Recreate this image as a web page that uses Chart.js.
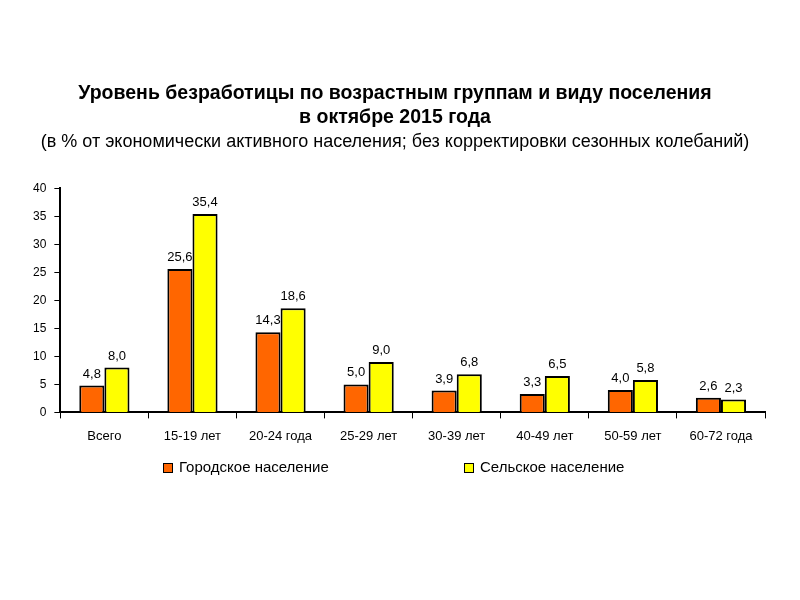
<!DOCTYPE html>
<html>
<head>
<meta charset="utf-8">
<script src="https://cdn.jsdelivr.net/npm/chart.js@4/dist/chart.umd.min.js"></script>
<style>
  html, body { margin: 0; padding: 0; background: #fff; }
  #wrap { width: 800px; height: 600px; }
</style>
</head>
<body>
<div id="wrap"><canvas id="chart" width="800" height="600"></canvas></div>
<script>
var categories = ['Всего', '15-19 лет', '20-24 года', '25-29 лет', '30-39 лет', '40-49 лет', '50-59 лет', '60-72 года'];
var urban = [4.8, 25.6, 14.3, 5.0, 3.9, 3.3, 4.0, 2.6];
var rural = [8.0, 35.4, 18.6, 9.0, 6.8, 6.5, 5.8, 2.3];
var yTicks = [0, 5, 10, 15, 20, 25, 30, 35, 40];

var fontFamily = 'Arial, "Liberation Sans", sans-serif';

// подписи значений над столбцами
var valueLabels = {
    id: 'valueLabels',
    afterDatasetsDraw: function(chart) {
        var ctx = chart.ctx;
        ctx.save();
        ctx.font = '13px ' + fontFamily;
        ctx.fillStyle = '#000';
        ctx.textAlign = 'center';
        ctx.textBaseline = 'bottom';
        chart.data.datasets.forEach(function(ds, i) {
            chart.getDatasetMeta(i).data.forEach(function(bar, j) {
                var txt = ds.data[j].toFixed(1).replace('.', ',');
                ctx.fillText(txt, bar.x, bar.y - 5);
            });
        });
        ctx.restore();
    }
};

// легенда внизу, с большим промежутком между элементами
var bottomLegend = {
    id: 'bottomLegend',
    afterDraw: function(chart) {
        var ctx = chart.ctx;
        var xs = [163, 464];
        var y = 468;
        ctx.save();
        ctx.font = '15px ' + fontFamily;
        ctx.textBaseline = 'middle';
        ctx.textAlign = 'left';
        chart.data.datasets.forEach(function(ds, i) {
            ctx.fillStyle = ds.backgroundColor;
            ctx.fillRect(xs[i], y - 5, 10, 10);
            ctx.strokeStyle = '#000';
            ctx.lineWidth = 1;
            ctx.strokeRect(xs[i] + 0.5, y - 4.5, 9, 9);
            ctx.fillStyle = '#000';
            ctx.fillText(ds.label, xs[i] + 16, y);
        });
        ctx.restore();
    }
};

var ctx = document.getElementById('chart').getContext('2d');
new Chart(ctx, {
    type: 'bar',
    data: {
        labels: categories,
        datasets: [{
            label: 'Городское население',
            data: urban,
            backgroundColor: '#FF6600',
            borderColor: '#000',
            borderWidth: 2,
            categoryPercentage: 0.57,
            barPercentage: 1.0
        }, {
            label: 'Сельское население',
            data: rural,
            backgroundColor: '#FFFF00',
            borderColor: '#000',
            borderWidth: 2,
            categoryPercentage: 0.57,
            barPercentage: 1.0
        }]
    },
    plugins: [valueLabels, bottomLegend],
    options: {
        responsive: false,
        animation: false,
        layout: {
            padding: { left: 25, right: 35, top: 81, bottom: 146 }
        },
        plugins: {
            title: {
                display: true,
                text: ['Уровень безработицы по возрастным группам и виду поселения', 'в октябре 2015 года'],
                color: '#000',
                font: { family: fontFamily, size: 19.5, weight: 'bold', lineHeight: 1.25 },
                padding: { top: 0, bottom: 1 }
            },
            subtitle: {
                display: true,
                text: '(в % от экономически активного населения; без корректировки сезонных колебаний)',
                color: '#000',
                font: { family: fontFamily, size: 18, lineHeight: 1.2 },
                padding: { top: 0, bottom: 36 }
            },
            legend: { display: false },
            tooltip: { enabled: false }
        },
        scales: {
            x: {
                offset: true,
                grid: {
                    offset: true,
                    drawOnChartArea: false,
                    drawTicks: true,
                    tickLength: 6,
                    color: '#000',
                    lineWidth: 1
                },
                border: { display: true, color: '#000', width: 2 },
                ticks: {
                    color: '#000',
                    padding: 10,
                    maxRotation: 0,
                    autoSkip: false,
                    font: { family: fontFamily, size: 13 }
                }
            },
            y: {
                min: 0,
                max: 40,
                afterBuildTicks: function(axis) {
                    axis.ticks = yTicks.map(function(v) { return { value: v }; });
                },
                grid: {
                    drawOnChartArea: false,
                    drawTicks: true,
                    tickLength: 6,
                    color: '#000',
                    lineWidth: 1
                },
                border: { display: true, color: '#000', width: 2 },
                ticks: {
                    color: '#000',
                    padding: 8,
                    autoSkip: false,
                    font: { family: fontFamily, size: 12 }
                }
            }
        }
    }
});
</script>
</body>
</html>
